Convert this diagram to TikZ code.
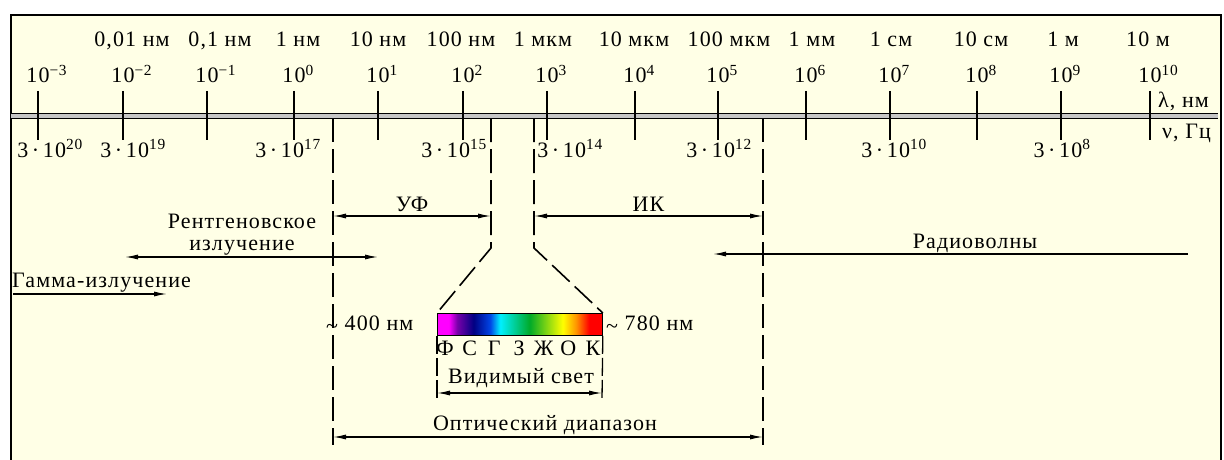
\documentclass[tikz,border=0pt]{standalone}
\usepackage{fontspec}
\setmainfont{Liberation Serif}[LetterSpace=5]
\usetikzlibrary{arrows.meta}

\definecolor{paper}{RGB}{255,255,230}
\definecolor{specmag}{RGB}{255,0,255}
\definecolor{specpur}{RGB}{120,0,170}
\definecolor{specnavy}{RGB}{0,0,130}
\definecolor{specblue}{RGB}{0,70,230}
\definecolor{speccyan}{RGB}{0,240,255}
\definecolor{specgreen}{RGB}{0,170,40}
\definecolor{specyel}{RGB}{255,255,0}
\definecolor{specora}{RGB}{255,150,0}
\definecolor{specred}{RGB}{255,0,0}
\pgfdeclarehorizontalshading{rainbow}{100bp}{color(0bp)=(specmag); color(25bp)=(specmag);
  color(28.5bp)=(specmag); color(31bp)=(specpur); color(36bp)=(specnavy); color(41bp)=(specblue);
  color(44bp)=(speccyan); color(53bp)=(specgreen); color(63bp)=(specyel); color(67bp)=(specora);
  color(71bp)=(specred); color(75bp)=(specred); color(100bp)=(specred)}

\newcommand{\approxsign}{\raisebox{-3pt}{\char"007E}}

\begin{document}
\begin{tikzpicture}[x=1pt, y=-1pt, >={Latex[length=13pt,width=5pt]},
    every node/.style={font=\fontsize{22}{24}\selectfont, inner sep=0pt},
    axtick/.style={line width=1.3pt},
    edgeline/.style={line width=1.6pt, dash pattern=on 24pt off 7pt},
    shortdash/.style={line width=1.3pt, dash pattern=on 18pt off 4pt},
    rangearrow/.style={line width=1.2pt, <->}]
    \useasboundingbox (0,0) rectangle (1224,460);

    % Frame with light yellow paper
    \fill[paper] (11,15) rectangle (1221,460);
    \draw[line width=2pt] (11,460) -- (11,15) -- (1221,15) -- (1221,460);

    % Double axis line
    \coordinate (axL) at (11,116);
    \coordinate (axR) at (1218,116);
    \draw[line width=1.3pt, double=gray!45, double distance=3.5pt] (axL) -- (axR);

    % Ticks and wavelength powers (nm)
    \foreach \x/\p [count=\i] in {38/−3, 123/−2, 207/−1, 294/0, 378/1, 463/2, 547/3,
                                  635/4, 718/5, 806/6, 890/7, 977/8, 1061/9, 1150/10} {
        \draw[axtick] (\x,91) -- (\x,140);
        \node[anchor=base] (pow\i) at (\x,83) {10\rlap{\textsuperscript{\p}}};
    }

    % Wavelengths in units
    \foreach \x/\t [count=\i] in {132/{0,01 нм}, 220/{0,1 нм}, 298/{1 нм}, 378/{10 нм},
                                  461/{100 нм}, 543/{1 мкм}, 634/{10 мкм}, 729/{100 мкм},
                                  812/{1 мм}, 891/{1 см}, 981/{10 см}, 1063/{1 м}, 1148/{10 м}} {
        \node[anchor=base] (unit\i) at (\x,47) {\t};
    }

    % Frequencies (Hz) below axis
    \foreach \x/\e in {50/20, 133/19, 288/17, 454/15, 570/14, 719/12, 894/10, 1062/8} {
        \node[anchor=base] (freq\e) at (\x,157) {3\,·\,10\textsuperscript{\e}};
    }

    % Axis names
    \node[anchor=base west] (lam) at (1158,107) {λ, нм};
    \node[anchor=base west] (nu) at (1162,138) {ν, Гц};

    % Visible spectrum bar
    \node[draw, line width=0.8pt, shade, shading=rainbow, minimum width=165pt, minimum height=22pt,
          anchor=north west] (bar) at (437,313) {};
    \node[anchor=base west] (lo) at (326,330) {\approxsign\ 400 нм};
    \node[anchor=base west] (hi) at (606,330) {\approxsign\ 780 нм};
    \foreach \l [count=\i] in {Ф,С,Г,З,Ж,О,К} {
        \node[anchor=base] (col\i) at ({445+24.67*(\i-1)},355) {\l};
    }

    % Dashed boundaries of the ranges
    \coordinate (uvA) at (333,118);
    \coordinate (uvB) at (333,445);
    \coordinate (uvC) at (491,118);
    \coordinate (uvD) at (491,248);
    \coordinate (irA) at (534,118);
    \coordinate (irB) at (534,248);
    \coordinate (irC) at (763,118);
    \coordinate (irD) at (763,445);
    \draw[edgeline] (uvA) -- (uvB);
    \draw[edgeline] (uvC) -- (uvD) -- (bar.north west);
    \draw[edgeline] (irA) -- (irB) -- (bar.north east);
    \draw[edgeline] (irC) -- (irD);

    % UV and IR ranges
    \coordinate (uvL) at (333,216);
    \coordinate (uvR) at (491,216);
    \draw[rangearrow] (uvL) -- (uvR) node[midway, above=4pt] (uvT) {УФ};
    \coordinate (irL) at (534,216);
    \coordinate (irR) at (763,216);
    \draw[rangearrow] (irL) -- (irR) node[midway, above=4pt] (irT) {ИК};

    % X-rays
    \node[anchor=base] (xrT) at (242,228) {Рентгеновское};
    \node[anchor=base] (xrU) at (242,250) {излучение};
    \coordinate (xrL) at (125,257);
    \coordinate (xrR) at (378,257);
    \draw[rangearrow] (xrL) -- (xrR);

    % Gamma rays
    \node[anchor=base west] (gmT) at (12,287) {Гамма-излучение};
    \coordinate (gmL) at (13,294);
    \coordinate (gmR) at (167,294);
    \draw[line width=1.2pt, ->] (gmL) -- (gmR);

    % Radio waves
    \node[anchor=base] (rdT) at (975,248) {Радиоволны};
    \coordinate (rdL) at (713,254);
    \coordinate (rdR) at (1188,254);
    \draw[line width=1.2pt, ->] (rdR) -- (rdL);

    % Visible light
    \coordinate (visL) at (437,400);
    \coordinate (visR) at (602,400);
    \draw[shortdash] (bar.south west) -- (visL);
    \draw[shortdash] (bar.south east) -- (visR);
    \coordinate (vaL) at (437,393);
    \coordinate (vaR) at (602,393);
    \draw[rangearrow] (vaL) -- (vaR);
    \node[anchor=base] (visT) at (521,383) {Видимый свет};

    % Optical range
    \coordinate (opL) at (333,437);
    \coordinate (opR) at (763,437);
    \draw[rangearrow] (opL) -- (opR);
    \node[anchor=base] (opT) at (545,430) {Оптический диапазон};
\end{tikzpicture}
\end{document}
